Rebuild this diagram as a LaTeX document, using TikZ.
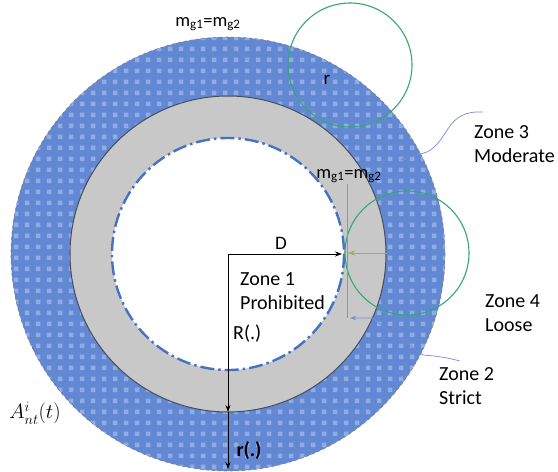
\documentclass[tikz,border=0pt]{standalone}
\usepackage{fontspec}
\setmainfont{Carlito}
\usetikzlibrary{patterns,arrows.meta}
\definecolor{ringblue}{RGB}{98,136,212}
\definecolor{cellblue}{RGB}{145,172,226}
\definecolor{ringgray}{RGB}{200,200,200}
\definecolor{edgegray}{RGB}{70,78,90}
\definecolor{dashblue}{RGB}{68,114,196}
\definecolor{circgreen}{RGB}{50,170,110}
\definecolor{arrgreen}{RGB}{140,185,90}
\definecolor{faintblue}{RGB}{120,140,200}
\definecolor{guidegray}{RGB}{140,150,175}
\pgfdeclarepatternformonly{cells}{\pgfpoint{0pt}{0pt}}{\pgfpoint{11pt}{11pt}}{\pgfpoint{11pt}{11pt}}{%
  \pgfpathrectangle{\pgfpoint{3pt}{3pt}}{\pgfpoint{5pt}{5pt}}\pgfusepath{fill}}
\tikzset{
  zonelabel/.style={font=\fontsize{20}{24}\selectfont, align=left, anchor=west, inner sep=0pt},
  eqlabel/.style={font=\fontsize{18.5}{20}\selectfont, inner sep=0pt},
  greencirc/.style={draw=circgreen, line width=1.1pt},
  dimarrow/.style={draw=black, line width=0.8pt, -{Stealth[length=7pt,width=5pt]}},
  faintarrow/.style={draw=faintblue, line width=0.7pt, -{Stealth[length=6pt,width=4pt]}},
}
\begin{document}
\begin{tikzpicture}[x=1pt,y=-1pt]
\useasboundingbox (0,0) rectangle (558,472);
\coordinate (c) at (228,254);
% outer zone 3 ring
\fill[ringblue] (c) circle (217);
\fill[pattern=cells, pattern color=cellblue] (c) circle (217);
\draw[gray, dashed, line width=0.6pt] (c) circle (217);
% zone 2 gray ring
\fill[ringgray] (c) circle (158);
\draw[edgegray, line width=1pt] (c) circle (158);
% zone 1 inner
\fill[white] (c) circle (116);
\draw[dashblue, line width=2.4pt, dash pattern=on 14pt off 4pt on 2.5pt off 4pt] (c) circle (116);
% green circles
\coordinate (g1) at (350,65);
\coordinate (g2) at (407,253);
\draw[greencirc] (g1) circle (62);
\draw[greencirc] (g2) circle (62);
% coordinates
\coordinate (dtip) at (342,254);
\coordinate (Rtip) at (228,412);
\coordinate (rtip) at (228,469);
\coordinate (gs) at (387,253);
\coordinate (ge) at (348,253);
\coordinate (vtop) at (347,184);
\coordinate (vbot) at (347,318);
\coordinate (tangent) at (316,113);
\coordinate (z3a) at (483,112);
\coordinate (z3b) at (427,152);
\coordinate (z3c) at (400,160);
\coordinate (z2a) at (460,361);
\coordinate (z2b) at (423,355);
\coordinate (z2c) at (372,318);
\coordinate (z2d) at (350,318);
% dimension arrows
\draw[dimarrow] (c) -- (dtip);
\draw[dimarrow] (c) -- (Rtip);
\draw[dimarrow] (Rtip) -- (rtip);
\draw[draw=arrgreen, line width=0.8pt, -{Stealth[length=7pt,width=5pt]}] (gs) -- (ge);
\draw[guidegray, line width=0.7pt] (vtop) -- (vbot);
% labels
\node[eqlabel] (mtop) at (208,24) {m\textsubscript{g1}=m\textsubscript{g2}};
\node[eqlabel] (mmid) at (349,176) {m\textsubscript{g1}=m\textsubscript{g2}};
\node[font=\fontsize{19}{20}\selectfont, inner sep=0pt] (rlab) at (327,80) {r};
\node[font=\fontsize{19}{20}\selectfont, inner sep=0pt] (dlab) at (281,243) {D};
\node[zonelabel] (z1) at (240,291) {Zone 1\\Prohibited};
\node[zonelabel] (Rl) at (233,334) {R(.)};
\node[font=\bfseries\fontsize{20}{22}\selectfont, inner sep=0pt] (rl) at (249,451) {r(.)};
\node[zonelabel] (z3) at (474,144) {Zone 3\\Moderate};
\node[zonelabel] (z4) at (485,313) {Zone 4\\Loose};
\node[zonelabel] (z2) at (439,386) {Zone 2\\Strict};
\node[font=\fontsize{21}{22}\selectfont, inner sep=0pt] (alab) at (35,413) {$A^{i}_{nt}(t)$};
% leader lines
\draw[faintarrow, draw opacity=0.6] ([xshift=18pt,yshift=-12pt]mtop.south) -- (tangent);
\draw[faintarrow] (z3a) .. controls (445,110) and (450,140) .. (z3b) -- (z3c);
\draw[faintarrow] (z2a) .. controls (445,357) and (435,356) .. (z2b) -- (z2c) -- (z2d);
\end{tikzpicture}
\end{document}
